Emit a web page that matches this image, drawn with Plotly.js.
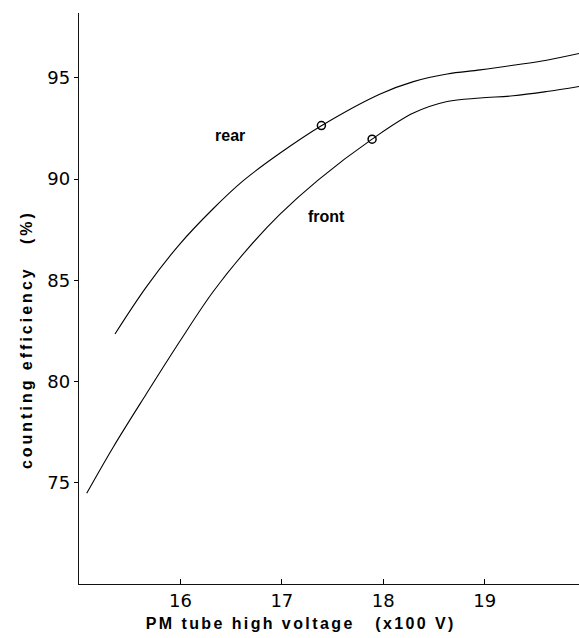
<!DOCTYPE html>
<html>
<head>
<meta charset="utf-8">
<script src="https://cdn.plot.ly/plotly-3.0.1.min.js"></script>
<style>
body { margin: 0; background: #fff; }
#chart { width: 579px; height: 638px; }
g.annotation[data-index="2"] text { letter-spacing: 2.4px; }
g.annotation[data-index="3"] text { letter-spacing: 3.0px; }
</style>
</head>
<body>
<div id="chart"></div>
<script>
// Curve samples (x in units of 100 V, y in %)
const rearX = [15.355, 15.668, 15.996, 16.32, 16.62, 16.98, 17.39, 17.97, 18.297, 18.63, 18.955, 19.28, 19.61, 19.93];
const rearY = [82.35, 84.70, 86.80, 88.52, 89.92, 91.27, 92.63, 94.20, 94.81, 95.19, 95.39, 95.62, 95.87, 96.20];
const frontX = [15.076, 15.34, 15.668, 15.996, 16.32, 16.65, 16.98, 17.36, 17.89, 18.297, 18.63, 18.955, 19.28, 19.61, 19.93];
const frontY = [74.48, 76.78, 79.42, 82.00, 84.42, 86.48, 88.25, 89.96, 91.97, 93.26, 93.83, 94.00, 94.11, 94.32, 94.57];
const markX = [17.39, 17.89];
const markY = [92.64, 91.97];
const xTicks = [16, 17, 18, 19];
const yTicks = [75, 80, 85, 90, 95];
const labels = ["rear", "front"];
const labelX = [16.49, 17.44];
const labelY = [92.13, 88.15];
const xTitle = "PM tube high voltage\u00a0\u00a0 (x100\u00a0V)";
const yTitle = "counting efficiency\u00a0\u00a0\u00a0(%)";

const sans = "Liberation Sans, Arial, Helvetica, sans-serif";
const tickFont = "DejaVu Sans, sans-serif";

const lineStyle = { color: "#000", width: 1.1, shape: "spline", smoothing: 1 };
const traces = [
  { x: rearX, y: rearY, mode: "lines", line: lineStyle, hoverinfo: "skip" },
  { x: frontX, y: frontY, mode: "lines", line: lineStyle, hoverinfo: "skip" },
  { x: markX, y: markY, mode: "markers", marker: { symbol: "circle-open", size: 8, color: "#000", line: { width: 1.5, color: "#000" } }, hoverinfo: "skip" }
];

const annotations = labels.map((t, i) => ({
  x: labelX[i], y: labelY[i], xref: "x", yref: "y", text: "<b>" + t + "</b>",
  showarrow: false, font: { size: 16, family: sans, color: "#000" }
}));
annotations.push({
  x: 0.443, y: -0.070, xref: "paper", yref: "paper", xanchor: "center", yanchor: "middle",
  text: "<b>" + xTitle + "</b>", showarrow: false, font: { size: 16, family: sans, color: "#000" }
});
annotations.push({
  x: -0.104, y: 0.428, xref: "paper", yref: "paper", xanchor: "center", yanchor: "middle", textangle: -90,
  text: "<b>" + yTitle + "</b>", showarrow: false, font: { size: 16, family: sans, color: "#000" }
});

const layout = {
  width: 579, height: 638,
  margin: { l: 79, r: 0, t: 13, b: 54 },
  paper_bgcolor: "#fff", plot_bgcolor: "#fff",
  showlegend: false,
  font: { family: sans, color: "#000", size: 17 },
  xaxis: {
    range: [15, 19.93], tickvals: xTicks, ticktext: xTicks.map(String),
    ticks: "inside", ticklen: 5, tickwidth: 1, tickcolor: "#000",
    showline: true, linecolor: "#111", linewidth: 1.2, showgrid: false, zeroline: false,
    tickfont: { size: 18, family: tickFont, color: "#000" }
  },
  yaxis: {
    range: [70, 98.2], tickvals: yTicks, ticktext: yTicks.map(String),
    ticks: "outside", ticklen: 4, tickwidth: 1, tickcolor: "#000",
    showline: true, linecolor: "#111", linewidth: 1.2, showgrid: false, zeroline: false,
    tickfont: { size: 18, family: tickFont, color: "#000" }
  },
  annotations: annotations
};

Plotly.newPlot("chart", traces, layout, { staticPlot: true, displayModeBar: false });
</script>
</body>
</html>
